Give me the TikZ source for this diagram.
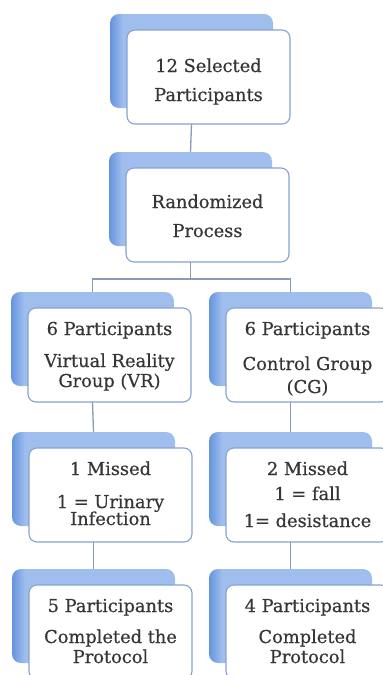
\documentclass[tikz,border=0pt]{standalone}
\usepackage{fontspec}
\setmainfont{DejaVu Serif}
\newfontfamily\boxfont{DejaVu Serif}[FakeBold=0.5]
\usetikzlibrary{calc}
\definecolor{sdark}{HTML}{6594DE}
\definecolor{slight}{HTML}{9FBEEE}
\definecolor{bborder}{HTML}{86A2D2}
\definecolor{conncol}{HTML}{8A9BB8}
\definecolor{txtcol}{HTML}{363636}
\pgfdeclarehorizontalshading{shadowshade}{100bp}{color(0bp)=(sdark); color(25bp)=(sdark); color(29bp)=(slight); color(100bp)=(slight)}
\tikzset{
  wbox/.style={draw=bborder, line width=1.1pt, fill=white, rounded corners=8pt,
    minimum width=163pt, minimum height=94pt, inner sep=0pt, outer sep=0pt, anchor=north west},
  sbox/.style={rounded corners=9pt, shading=shadowshade,
    minimum width=163pt, minimum height=94pt, inner sep=0pt, outer sep=0pt},
  conn/.style={draw=conncol, line width=1.3pt},
  txt/.style={font=\boxfont\fontsize{17.8}{21}\selectfont, text=txtcol, inner sep=0pt, anchor=base}
}
\newcommand{\tline}[4]{\path (#2.north) ++(0,#3) node[txt] (#1) {#4};}
\newcommand{\mkbox}[3]{%
  \coordinate (#1tl) at (#2,#3);
  \node[sbox] (#1s) at ($(#1tl)+(81.5,47)+(-17,-16)$) {};
  \node[wbox] (#1) at (#1tl) {};}
\begin{document}
\begin{tikzpicture}[x=1pt,y=-1pt]
\useasboundingbox (0,0) rectangle (383,675);
\clip (0,0) rectangle (383,675);
% boxes
\mkbox{A}{127}{30}
\mkbox{B}{126}{168}
\mkbox{CL}{28}{308}
\mkbox{CR}{226}{308}
\mkbox{DL}{29}{448}
\mkbox{DR}{226}{448}
\mkbox{EL}{29}{585}
\mkbox{ER}{226}{585}
% connectors
\coordinate (J) at ($(B.south -| Bs.north)+(0,17)$);
\draw[conn] (A.south -| As.north) -- (Bs.north);
\draw[conn] (B.south -| Bs.north) -- (J);
\draw[conn] (CLs.north) |- (J) -| (CRs.north);
\draw[conn] (CL.south -| CLs.north) -- (DLs.north);
\draw[conn] (CR.south -| CRs.north) -- (DRs.north);
\draw[conn] (DL.south -| DLs.north) -- (ELs.north);
\draw[conn] (DR.south -| DRs.north) -- (ERs.north);
% texts
\tline{A1}{A}{42}{12 Selected}
\tline{A2}{A}{71}{Participants}
\tline{B1}{B}{40}{Randomized}
\tline{B2}{B}{69}{Process}
\tline{CL1}{CL}{27}{6 Participants}
\tline{CL2}{CL}{59}{Virtual Reality}
\tline{CL3}{CL}{79}{Group (VR)}
\tline{CR1}{CR}{27}{6 Participants}
\tline{CR2}{CR}{62}{Control Group}
\tline{CR3}{CR}{85}{(CG)}
\tline{DL1}{DL}{27}{1 Missed}
\tline{DL2}{DL}{60}{1 = Urinary}
\tline{DL3}{DL}{77}{Infection}
\tline{DR1}{DR}{27}{2 Missed}
\tline{DR2}{DR}{52}{1 = fall}
\tline{DR3}{DR}{79}{1= desistance}
\tline{EL1}{EL}{27}{5 Participants}
\tline{EL2}{EL}{58}{Completed the}
\tline{EL3}{EL}{78}{Protocol}
\tline{ER1}{ER}{27}{4 Participants}
\tline{ER2}{ER}{58}{Completed}
\tline{ER3}{ER}{78}{Protocol}
\end{tikzpicture}
\end{document}
